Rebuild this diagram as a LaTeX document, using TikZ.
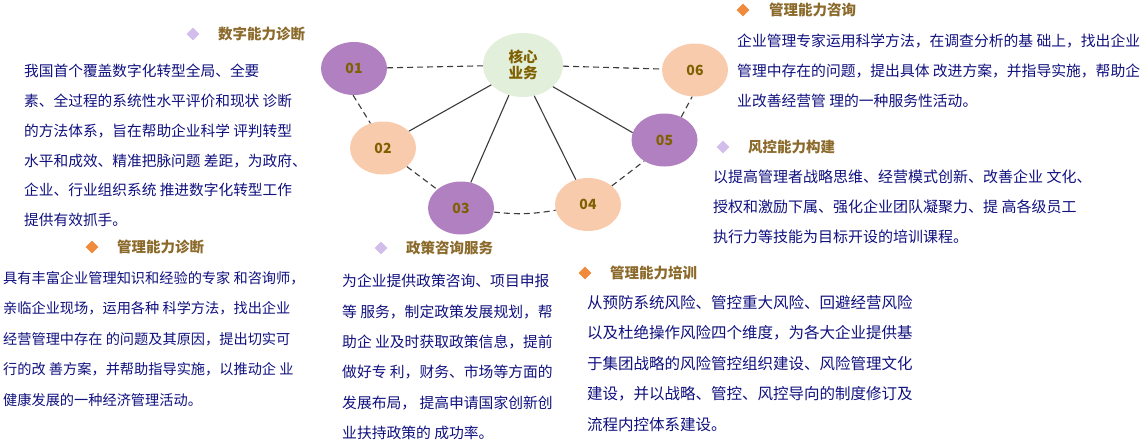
\documentclass[tikz,border=0pt]{standalone}
\usepackage{fontspec}
\setmainfont{Noto Sans CJK SC}
\usetikzlibrary{shapes.geometric, positioning}
\definecolor{vio}{HTML}{B180C0}
\definecolor{peach}{HTML}{F8CBAD}
\definecolor{pale}{HTML}{E2EFDA}
\definecolor{numc}{HTML}{7F6000}
\definecolor{hdc}{HTML}{8B6A2B}
\definecolor{txc}{HTML}{10107F}
\definecolor{lnc}{HTML}{3A3A3A}
\definecolor{lav}{HTML}{D3BEEB}
\definecolor{org}{HTML}{F08A3C}

\begin{document}
\begin{tikzpicture}[x=1pt, y=-1pt,
  e/.style={ellipse, minimum width=66pt, minimum height=53pt, inner sep=0pt,
            font=\fontsize{14}{14}\selectfont\bfseries, text=numc},
  pu/.style={e, fill=vio},
  pe/.style={e, fill=peach},
  dl/.style={line width=1.1pt, draw=lnc, dash pattern=on 6pt off 4pt},
  sl/.style={line width=1.1pt, draw=lnc},
  hd/.style={anchor=west, inner sep=0pt, font=\fontsize{14.5}{14.5}\selectfont\bfseries, text=hdc},
  dm/.style={diamond, inner sep=0pt, minimum size=13pt},
  bd/.style={anchor=north west, inner sep=0pt, align=left, text=txc}]
  \useasboundingbox (0,0) rectangle (1142,447);
  \node[e, fill=pale, minimum width=80pt, minimum height=64pt, align=center,
        font=\fontsize{14.5}{16.5}\selectfont\bfseries] (core) at (523,65) {核心\\业务};
  \node[pu] (n01) at (354,68.5) {01};
  \node[pe] (n02) at (383,148) {02};
  \node[pu] (n03) at (461,208) {03};
  \node[pe] (n04) at (588,204.5) {04};
  \node[pu] (n05) at (664.5,140) {05};
  \node[pe] (n06) at (695,70) {06};
  \draw[dl] (n01) -- (core);
  \draw[dl] (core) -- (n06);
  \draw[dl] (n01.-92) -- (n02.117);
  \draw[dl] (n02.-38) -- (n03.142);
  \draw[dl] (n03.-7) to[bend right=8] (n04.190);
  \draw[dl] (n04.38) -- (n05.226);
  \draw[dl] (n05.54) -- (n06.264);
  \draw[sl] (core.212) -- (n02.33);
  \draw[sl] (core.245) -- (n03.69);
  \draw[sl] (core.290) -- (n04.116);
  \draw[sl] (core.324) -- (n05.167);
  \node[dm, fill=lav] (b1) at (193,34) {};
  \node[hd] (h1) at (218,34) {数字能力诊断};
  \node[bd, font=\fontsize{14.7}{29.8}\selectfont] (t1) at (24,64) {我国首个覆盖数字化转型全局、全要\\
    素、全过程的系统性水平评价和现状 诊断\\
    的方法体系，旨在帮助企业科学 评判转型\\
    水平和成效、精准把脉问题 差距，为政府、\\
    企业、行业组织系统 推进数字化转型工作\\
    提供有效抓手。};
  \node[dm, fill=org] (b2) at (743,10) {};
  \node[hd] (h2) at (769,10) {管理能力咨询};
  \node[bd, font=\fontsize{14.8}{30}\selectfont] (t2) at (737,34) {企业管理专家运用科学方法，在调查分析的基 础上，找出企业\\
    管理中存在的问题，提出具体 改进方案，并指导实施，帮助企\\
    业改善经营管 理的一种服务性活动。};
  \node[dm, fill=lav] (b3) at (723,147) {};
  \node[hd] (h3) at (748,147) {风控能力构建};
  \node[bd, font=\fontsize{15}{30}\selectfont] (t3) at (713,170) {以提高管理者战略思维、经营模式创新、改善企业 文化、\\
    授权和激励下属、强化企业团队凝聚力、提 高各级员工\\
    执行力等技能为目标开设的培训课程。};
  \node[dm, fill=org] (b4) at (92,247) {};
  \node[hd] (h4) at (117,247) {管理能力诊断};
  \node[bd, font=\fontsize{14.2}{30.5}\selectfont] (t4) at (3,271) {具有丰富企业管理知识和经验的专家 和咨询师，\\
    亲临企业现场，运用各种 科学方法，找出企业\\
    经营管理中存在 的问题及其原因，提出切实可\\
    行的改 善方案，并帮助指导实施，以推动企 业\\
    健康发展的一种经济管理活动。};
  \node[dm, fill=lav] (b5) at (381,248) {};
  \node[hd] (h5) at (406,248) {政策咨询服务};
  \node[bd, font=\fontsize{14.8}{30.4}\selectfont] (t5) at (342,274) {为企业提供政策咨询、项目申报\\
    等 服务，制定政策发展规划，帮\\
    助企 业及时获取政策信息，提前\\
    做好专 利，财务、市场等方面的\\
    发展布局， 提高申请国家创新创\\
    业扶持政策的 成功率。};
  \node[dm, fill=org] (b6) at (585,273) {};
  \node[hd] (h6) at (610,273) {管理能力培训};
  \node[bd, font=\fontsize{15.5}{30.5}\selectfont] (t6) at (587,295) {从预防系统风险、管控重大风险、回避经营风险\\
    以及杜绝操作风险四个维度，为各大企业提供基\\
    于集团战略的风险管控组织建设、风险管理文化\\
    建设，并以战略、管控、风控导向的制度修订及\\
    流程内控体系建设。};
\end{tikzpicture}
\end{document}
